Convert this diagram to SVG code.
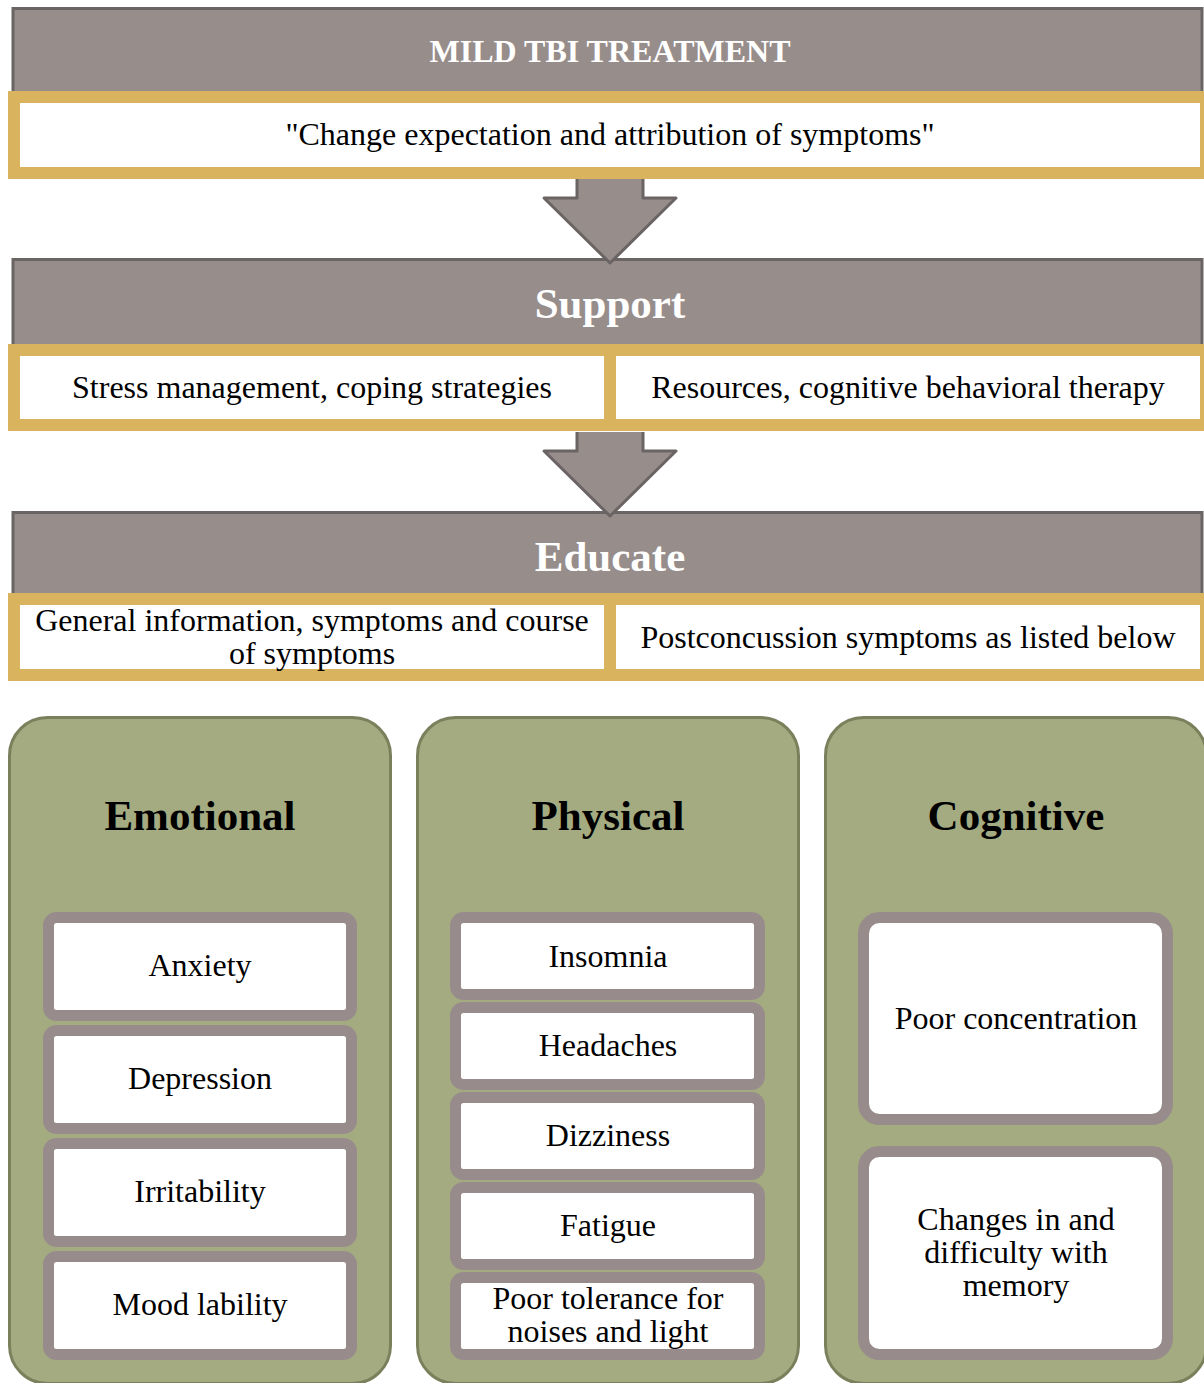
<svg xmlns="http://www.w3.org/2000/svg" width="1204" height="1383" viewBox="0 0 1204 1383">
<style>
.hdr{fill:#978d8b;stroke:#6b6464;stroke-width:3}
.gold{fill:#fff;stroke:#d9b35d;stroke-width:12}
.panel{fill:#a4ab80;stroke:#7b805c;stroke-width:3}
.item{fill:#fff;stroke:#978c8b;stroke-width:11}
.arrow{fill:#978d8b;stroke:#6b6464;stroke-width:3;stroke-linejoin:round}
text{font-family:"Liberation Serif","Times New Roman",serif;text-anchor:middle;fill:#000}
.ht{font-weight:bold;fill:#fff}
.t{font-size:32px}
.pt{font-size:43px;font-weight:bold}
</style>
<rect width="1204" height="1383" fill="#fff"/>
<g id="header-treatment">
<rect class="hdr" x="13" y="8.5" width="1189" height="95"/>
<text class="ht" x="610" y="62" font-size="32">MILD TBI TREATMENT</text>
<rect class="gold" x="14" y="97" width="1192" height="76"/>
<text class="t" x="610" y="145">"Change expectation and attribution of symptoms"</text>
</g>
<g id="header-support">
<rect class="hdr" x="13" y="259.5" width="1189" height="95"/>
<text class="ht" x="610" y="318" font-size="43">Support</text>
<rect class="gold" x="14" y="350" width="596" height="75"/>
<rect class="gold" x="610" y="350" width="596" height="75"/>
<text class="t" x="312" y="398">Stress management, coping strategies</text>
<text class="t" x="908" y="398">Resources, cognitive behavioral therapy</text>
</g>
<g id="header-educate">
<rect class="hdr" x="13" y="512.5" width="1189" height="95"/>
<text class="ht" x="610" y="571" font-size="43">Educate</text>
<rect class="gold" x="14" y="599" width="596" height="76"/>
<rect class="gold" x="610" y="599" width="596" height="76"/>
<text class="t" x="312" y="631">General information, symptoms and course</text>
<text class="t" x="312" y="664">of symptoms</text>
<text class="t" x="908" y="648">Postconcussion symptoms as listed below</text>
</g>
<g id="panel-emotional">
<rect class="panel" x="9.5" y="717.5" width="381" height="666" rx="38"/>
<text class="pt" x="200" y="830">Emotional</text>
<rect class="item" x="48.5" y="917.5" width="303" height="98" rx="8"/>
<text class="t" x="200" y="976">Anxiety</text>
<rect class="item" x="48.5" y="1030.5" width="303" height="98" rx="8"/>
<text class="t" x="200" y="1089">Depression</text>
<rect class="item" x="48.5" y="1143.5" width="303" height="98" rx="8"/>
<text class="t" x="200" y="1202">Irritability</text>
<rect class="item" x="48.5" y="1256.5" width="303" height="98" rx="8"/>
<text class="t" x="200" y="1315">Mood lability</text>
</g>
<g id="panel-physical">
<rect class="panel" x="417.5" y="717.5" width="381" height="666" rx="38"/>
<text class="pt" x="608" y="830">Physical</text>
<rect class="item" x="455.5" y="917.5" width="304" height="77" rx="8"/>
<text class="t" x="608" y="967">Insomnia</text>
<rect class="item" x="455.5" y="1007.5" width="304" height="77" rx="8"/>
<text class="t" x="608" y="1056">Headaches</text>
<rect class="item" x="455.5" y="1097.5" width="304" height="77" rx="8"/>
<text class="t" x="608" y="1146">Dizziness</text>
<rect class="item" x="455.5" y="1187.5" width="304" height="77" rx="8"/>
<text class="t" x="608" y="1236">Fatigue</text>
<rect class="item" x="455.5" y="1277.5" width="304" height="77" rx="8"/>
<text class="t" x="608" y="1309">Poor tolerance for</text>
<text class="t" x="608" y="1342">noises and light</text>
</g>
<g id="panel-cognitive">
<rect class="panel" x="825.5" y="717.5" width="381" height="666" rx="38"/>
<text class="pt" x="1016" y="830">Cognitive</text>
<rect class="item" x="863.5" y="917.5" width="304" height="202" rx="16"/>
<text class="t" x="1016" y="1029">Poor concentration</text>
<rect class="item" x="863.5" y="1151.5" width="304" height="203" rx="16"/>
<text class="t" x="1016" y="1230">Changes in and</text>
<text class="t" x="1016" y="1263">difficulty with</text>
<text class="t" x="1016" y="1296">memory</text>
</g>
<g id="connectors">
<path class="arrow" d="M577,179 V198 H544 L610,263 L676,198 H643 V179"/>
<path class="arrow" d="M577,432 V451 H544 L610,516 L676,451 H643 V432"/>
</g>
</svg>
